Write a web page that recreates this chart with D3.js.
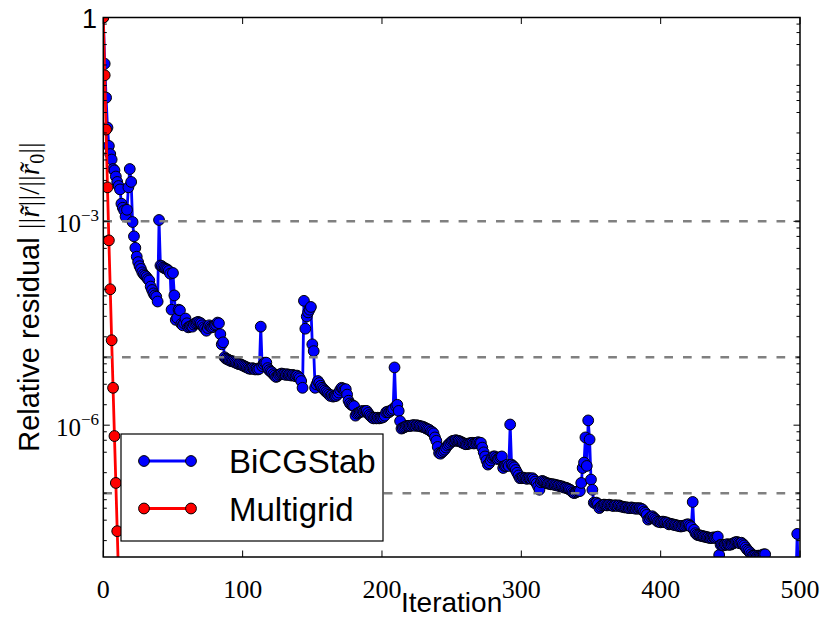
<!DOCTYPE html>
<html><head><meta charset="utf-8">
<script src="https://cdn.jsdelivr.net/npm/d3@7"></script>
<style>body{margin:0;background:#fff}</style>
</head><body><svg id="c" width="831" height="622"></svg>
<script>
// log10 of relative residual, one value per iteration
const bicgstabLog10 = [
0,-0.68,-1.18,-1.62,-1.89,-2.01,-2.09,-2.23,-2.25,-2.34,
-2.42,-2.48,-2.53,-2.74,-2.80,-2.84,-2.93,-2.83,-2.50,-2.23,
-2.42,-3.01,-3.22,-3.39,-3.52,-3.60,-3.66,-3.70,-3.75,-3.78,
-3.80,-3.82,-3.85,-3.87,-3.96,-4.01,-4.06,-4.09,-4.11,-4.18,
-2.98,-3.65,-3.66,-3.68,-3.69,-3.70,-3.71,-3.73,-3.77,-4.30,
-3.76,-4.09,-4.45,-4.42,-4.30,-4.31,-4.51,-4.53,-4.50,-4.43,
-4.50,-4.56,-4.55,-4.54,-4.55,-4.52,-4.50,-4.49,-4.48,-4.49,
-4.50,-4.53,-4.56,-4.58,-4.61,-4.57,-4.53,-4.55,-4.56,-4.55,
-4.53,-4.52,-4.49,-4.50,-4.66,-4.81,-4.78,-5.00,-5.02,-5.03,
-5.04,-5.05,-5.06,-5.06,-5.07,-5.08,-5.09,-5.10,-5.10,-5.11,
-5.12,-5.13,-5.14,-5.15,-5.16,-5.17,-5.17,-5.16,-5.17,-5.18,
-5.17,-5.18,-5.17,-4.55,-5.13,-5.10,-5.08,-5.08,-5.16,-5.19,
-5.21,-5.22,-5.25,-5.27,-5.29,-5.28,-5.26,-5.25,-5.24,-5.25,
-5.25,-5.26,-5.25,-5.26,-5.26,-5.27,-5.26,-5.27,-5.28,-5.27,
-5.29,-5.31,-5.35,-5.45,-4.17,-4.58,-4.40,-4.34,-4.30,-4.26,
-4.81,-4.91,-5.45,-5.40,-5.35,-5.38,-5.42,-5.45,-5.47,-5.49,
-5.51,-5.53,-5.55,-5.57,-5.56,-5.58,-5.57,-5.57,-5.55,-5.52,
-5.48,-5.45,-5.46,-5.48,-5.47,-5.55,-5.64,-5.68,-5.70,-5.71,
-5.72,-5.86,-5.83,-5.82,-5.81,-5.80,-5.79,-5.80,-5.79,-5.79,
-5.82,-5.85,-5.87,-5.89,-5.90,-5.89,-5.90,-5.89,-5.90,-5.89,
-5.89,-5.88,-5.86,-5.81,-5.80,-5.81,-5.79,-5.78,-5.76,-5.15,
-5.72,-5.70,-5.79,-5.94,-6.05,-6.04,-6.03,-6.02,-6.01,-6.01,
-6.01,-6.01,-6.00,-6.00,-6.01,-6.00,-6.01,-6.01,-6.02,-6.02,
-6.03,-6.04,-6.05,-6.06,-6.07,-6.09,-6.10,-6.12,-6.18,-6.23,
-6.32,-6.41,-6.42,-6.40,-6.38,-6.36,-6.33,-6.30,-6.28,-6.26,
-6.24,-6.23,-6.23,-6.22,-6.23,-6.23,-6.24,-6.25,-6.26,-6.27,
-6.28,-6.28,-6.27,-6.27,-6.26,-6.26,-6.27,-6.26,-6.26,-6.25,
-6.26,-6.26,-6.33,-6.40,-6.46,-6.52,-6.58,-6.56,-6.52,-6.48,
-6.46,-6.46,-6.48,-6.50,-6.49,-6.47,-6.46,-6.63,-6.60,-6.60,
-6.58,-6.60,-5.99,-6.58,-6.60,-6.62,-6.66,-6.70,-6.74,-6.78,
-6.78,-6.77,-6.78,-6.78,-6.79,-6.78,-6.78,-6.79,-6.78,-6.80,
-6.83,-6.86,-6.90,-6.95,-6.84,-6.82,-6.83,-6.84,-6.85,-6.86,
-6.86,-6.87,-6.87,-6.87,-6.88,-6.88,-6.89,-6.89,-6.90,-6.90,
-6.91,-6.92,-6.92,-6.93,-6.94,-6.95,-6.97,-6.99,-7.00,-6.99,
-6.98,-6.97,-6.97,-6.85,-6.63,-6.55,-6.18,-6.60,-5.93,-6.21,
-6.80,-6.95,-7.14,-7.15,-7.14,-7.16,-7.22,-7.20,-7.18,-7.17,
-7.17,-7.18,-7.18,-7.17,-7.18,-7.18,-7.19,-7.18,-7.18,-7.19,
-7.18,-7.19,-7.20,-7.20,-7.21,-7.21,-7.21,-7.22,-7.22,-7.21,
-7.22,-7.22,-7.23,-7.22,-7.23,-7.22,-7.23,-7.24,-7.27,-7.29,
-7.32,-7.39,-7.37,-7.35,-7.34,-7.36,-7.38,-7.40,-7.42,-7.42,
-7.43,-7.42,-7.42,-7.43,-7.43,-7.44,-7.46,-7.45,-7.46,-7.46,
-7.47,-7.47,-7.48,-7.48,-7.49,-7.49,-7.48,-7.48,-7.47,-7.46,
-7.46,-7.48,-7.50,-7.13,-7.54,-7.59,-7.61,-7.62,-7.62,-7.63,
-7.63,-7.64,-7.64,-7.65,-7.65,-7.66,-7.66,-7.66,-7.65,-7.66,
-7.65,-7.64,-7.91,-7.76,-7.76,-7.77,-7.76,-7.76,-7.75,-7.76,
-7.76,-7.75,-7.74,-7.73,-7.72,-7.72,-7.73,-7.74,-7.73,-7.75,
-7.77,-7.80,-7.83,-7.85,-7.87,-7.90,-7.92,-7.92,-7.92,-7.93,
-7.92,-7.92,-7.92,-7.91,-7.90,-7.90,-8.05,-8.10,-8.12,-8.14,
-8.15,-8.16,-8.18,-8.19,-8.20,-8.21,-8.22,-8.23,-8.24,-8.25,
-8.26,-8.27,-8.28,-8.29,-8.30,-8.31,-8.32,-8.33,-7.60,-8.35
];
const multigridLog10 = [0,-0.85,-1.65,-2.50,-3.28,-4.00,-4.75,-5.45,-6.16,-6.85,-7.56,-8.26];
const seriesNames = ["BiCGStab","Multigrid"];
const seriesColors = ["#0000ff","#ff0000"];
const xTickValues = [0,100,200,300,400,500];
const yLabelTicks = [{v:1,e:null},{v:1e-3,e:"\u22123"},{v:1e-6,e:"\u22126"}];
const referenceLevels = [1e-3,1e-5,1e-7];
const xDomain = [0,500];
const yDomain = [Math.pow(10,-7.94),1];

const svg = d3.select("#c");
const L=103.3, R=800, T=17.5, B=557;
const x = d3.scaleLinear().domain(xDomain).range([L,R]);
const y = d3.scaleLog().domain(yDomain).range([B,T]);
const MR = 5.4;

svg.append("defs").append("clipPath").attr("id","clip")
  .append("rect").attr("x",L).attr("y",T).attr("width",R-L).attr("height",B-T);

const bicg = bicgstabLog10.map((v,i)=>({i, r:Math.pow(10,v)}));
const mg = multigridLog10.map((v,i)=>({i, r:Math.pow(10,v)}));
const line = d3.line().x(d=>x(d.i)).y(d=>y(d.r));

const plot = svg.append("g").attr("clip-path","url(#clip)");
[bicg, mg].forEach((data,k)=>{
  plot.append("path").datum(data).attr("d",line)
    .attr("fill","none").attr("stroke",seriesColors[k]).attr("stroke-width",2.8)
    .attr("stroke-linejoin","round");
  plot.append("g").selectAll("circle").data(data).join("circle")
    .attr("cx",d=>x(d.i)).attr("cy",d=>y(d.r)).attr("r",MR)
    .attr("fill",seriesColors[k]).attr("stroke","#000").attr("stroke-width",1);
});

// reference dashed levels
plot.selectAll("line.ref").data(referenceLevels).join("line")
  .attr("x1",x(xDomain[0])).attr("x2",x(xDomain[1]))
  .attr("y1",d=>y(d)).attr("y2",d=>y(d))
  .attr("stroke","#808080").attr("stroke-width",2.5).attr("stroke-dasharray","8.7,10");

// ticks
const tg = svg.append("g").attr("stroke","#000").attr("stroke-width",1);
const majLen=6.5, minLen=3.5;
xTickValues.forEach(v=>{
  tg.append("line").attr("x1",x(v)).attr("x2",x(v)).attr("y1",B).attr("y2",B-majLen);
  tg.append("line").attr("x1",x(v)).attr("x2",x(v)).attr("y1",T).attr("y2",T+majLen);
});
const minorY=[];
for(let e=-8;e<=0;e++){ [1,2,4,6,8].forEach(m=>{const v=m*Math.pow(10,e); if(v>=yDomain[0]&&v<=1) minorY.push(v);}); }
minorY.forEach(v=>{
  const isMaj = yLabelTicks.some(t=>Math.abs(Math.log10(t.v)-Math.log10(v))<1e-6);
  const len = isMaj?majLen:minLen;
  tg.append("line").attr("x1",L).attr("x2",L+len).attr("y1",y(v)).attr("y2",y(v));
  tg.append("line").attr("x1",R).attr("x2",R-len).attr("y1",y(v)).attr("y2",y(v));
});

// frame
svg.append("rect").attr("x",L).attr("y",T).attr("width",R-L).attr("height",B-T)
  .attr("fill","none").attr("stroke","#000").attr("stroke-width",1.5);

const serif = "'Liberation Serif','DejaVu Serif',serif";
const sans = "'Liberation Sans',Arial,sans-serif";

// x tick labels
svg.append("g").selectAll("text").data(xTickValues).join("text")
  .attr("x",d=>x(d)).attr("y",B+41).attr("text-anchor","middle")
  .attr("font-family",serif).attr("font-size",26)
  .text(d=>d3.format("d")(d));

// y tick labels
yLabelTicks.forEach(t=>{
  if(t.e===null){
    svg.append("text").attr("x",97).attr("y",y(t.v)+10).attr("text-anchor","end")
      .attr("font-family",sans).attr("font-size",27).text("1");
  } else {
    const tx = svg.append("text").attr("x",99).attr("y",y(t.v)+11).attr("text-anchor","end")
      .attr("font-family",serif).attr("font-size",25);
    tx.append("tspan").text("10");
    tx.append("tspan").attr("font-size",17).attr("dy",-11).text(t.e);
  }
});

// axis labels
svg.append("text").attr("x",(L+R)/2).attr("y",612).attr("text-anchor","middle")
  .attr("font-family",sans).attr("font-size",28).text("Iteration");

const yl = svg.append("text").attr("transform",`translate(39,297) rotate(-90)`)
  .attr("text-anchor","middle").attr("font-size",29);
yl.append("tspan").attr("font-family",sans).text("Relative residual ");
yl.append("tspan").attr("font-family",serif).text("||");
yl.append("tspan").attr("font-family",serif).attr("font-style","italic").text("r\u0303");
yl.append("tspan").attr("font-family",serif).text("||/||");
yl.append("tspan").attr("font-family",serif).attr("font-style","italic").text("r\u0303");
yl.append("tspan").attr("font-family",serif).attr("font-size",20).attr("dy",5).text("0");
yl.append("tspan").attr("font-family",serif).attr("dy",-5).text("||");

// legend
const lg = svg.append("g");
lg.append("rect").attr("x",121).attr("y",434).attr("width",262).attr("height",107)
  .attr("fill","#fff").attr("stroke","#000").attr("stroke-width",1.2);
seriesNames.forEach((n,k)=>{
  const yy = 461 + k*47.5;
  lg.append("line").attr("x1",144).attr("x2",191).attr("y1",yy).attr("y2",yy)
    .attr("stroke",seriesColors[k]).attr("stroke-width",2.8);
  [144,191].forEach(cx=>lg.append("circle").attr("cx",cx).attr("cy",yy).attr("r",MR)
    .attr("fill",seriesColors[k]).attr("stroke","#000").attr("stroke-width",1));
  lg.append("text").attr("x",229).attr("y",yy+12).attr("font-size",33)
    .attr("font-family",sans).text(n);
});
</script></body></html>
